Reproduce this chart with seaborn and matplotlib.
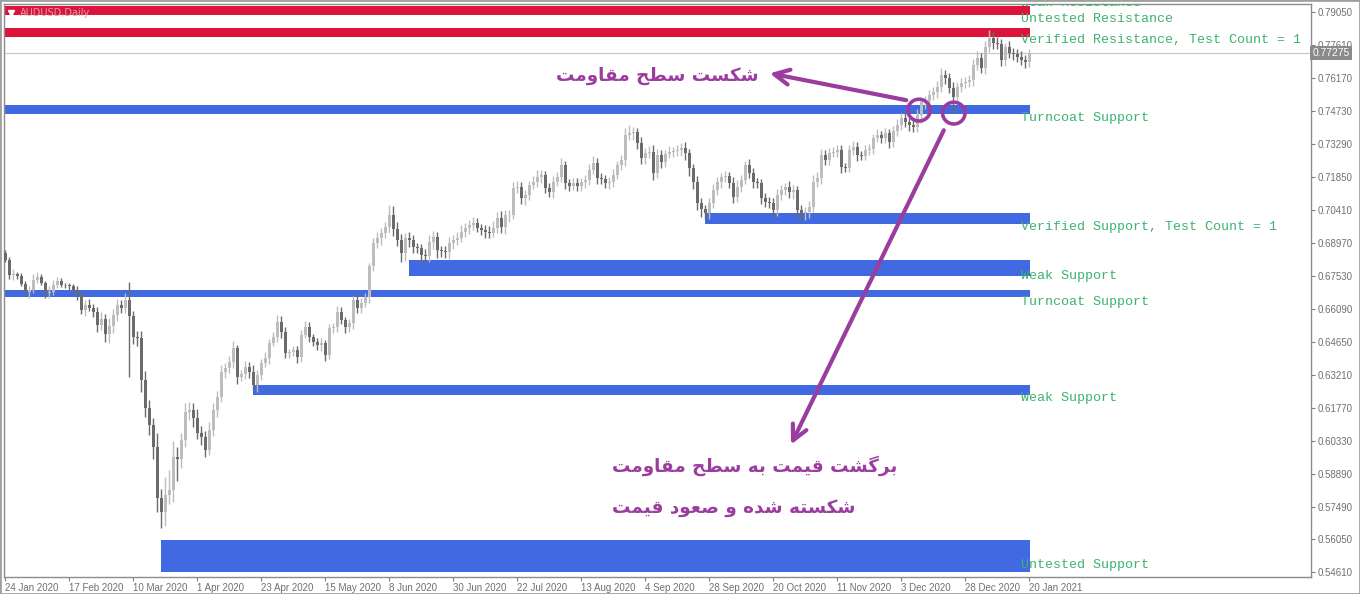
import matplotlib
matplotlib.use("Agg")
import matplotlib.pyplot as plt
import seaborn as sns
import numpy as np
from matplotlib.patches import Ellipse, Rectangle

# daily closes, AUDUSD
closes = [
    0.6823, 0.6757, 0.6762, 0.6753, 0.6718, 0.6683, 0.6692, 0.6736, 0.6749, 0.6722, 0.6679, 0.6683, 0.6714, 0.6731, 0.6714, 0.6712,
    0.6709, 0.6692, 0.6670, 0.6605, 0.6627, 0.6615, 0.6596, 0.6539, 0.6565, 0.6500, 0.6535, 0.6583, 0.6627, 0.6613, 0.6648, 0.6579,
    0.6487, 0.6483, 0.6299, 0.6177, 0.6103, 0.6007, 0.5784, 0.5723, 0.5797, 0.5819, 0.5963, 0.5954, 0.6037, 0.6160, 0.6168, 0.6133,
    0.6068, 0.6051, 0.5994, 0.6081, 0.6168, 0.6225, 0.6334, 0.6352, 0.6378, 0.6439, 0.6312, 0.6325, 0.6356, 0.6334, 0.6277, 0.6321,
    0.6373, 0.6395, 0.6461, 0.6487, 0.6552, 0.6509, 0.6417, 0.6421, 0.6430, 0.6400, 0.6496, 0.6531, 0.6487, 0.6465, 0.6452, 0.6461,
    0.6408, 0.6526, 0.6531, 0.6596, 0.6561, 0.6531, 0.6548, 0.6648, 0.6613, 0.6635, 0.6661, 0.6797, 0.6897, 0.6919, 0.6941, 0.6967,
    0.7019, 0.6958, 0.6910, 0.6853, 0.6919, 0.6910, 0.6880, 0.6875, 0.6845, 0.6840, 0.6901, 0.6923, 0.6867, 0.6862, 0.6858, 0.6897,
    0.6910, 0.6919, 0.6945, 0.6962, 0.6976, 0.6984, 0.6962, 0.6954, 0.6945, 0.6941, 0.6962, 0.7006, 0.6967, 0.7019, 0.7021, 0.7137,
    0.7141, 0.7093, 0.7107, 0.7150, 0.7163, 0.7185, 0.7194, 0.7137, 0.7120, 0.7163, 0.7185, 0.7237, 0.7159, 0.7146, 0.7159, 0.7146,
    0.7163, 0.7172, 0.7216, 0.7246, 0.7181, 0.7178, 0.7159, 0.7163, 0.7194, 0.7237, 0.7259, 0.7368, 0.7377, 0.7380, 0.7333, 0.7268,
    0.7290, 0.7294, 0.7203, 0.7281, 0.7251, 0.7285, 0.7294, 0.7299, 0.7303, 0.7312, 0.7290, 0.7224, 0.7163, 0.7072, 0.7045, 0.7028,
    0.7072, 0.7128, 0.7163, 0.7185, 0.7188, 0.7159, 0.7098, 0.7141, 0.7172, 0.7237, 0.7203, 0.7163, 0.7159, 0.7093, 0.7076, 0.7072,
    0.7041, 0.7107, 0.7128, 0.7141, 0.7120, 0.7128, 0.7041, 0.7028, 0.7032, 0.7054, 0.7163, 0.7181, 0.7281, 0.7259, 0.7290, 0.7294,
    0.7303, 0.7229, 0.7226, 0.7303, 0.7316, 0.7281, 0.7278, 0.7303, 0.7306, 0.7355, 0.7368, 0.7355, 0.7377, 0.7338, 0.7386, 0.7412,
    0.7443, 0.7425, 0.7412, 0.7403, 0.7456, 0.7512, 0.7515, 0.7543, 0.7556, 0.7578, 0.7630, 0.7617, 0.7573, 0.7534, 0.7578, 0.7595,
    0.7600, 0.7608, 0.7674, 0.7704, 0.7661, 0.7752, 0.7792, 0.7770, 0.7765, 0.7696, 0.7752, 0.7726, 0.7722, 0.7709, 0.7696, 0.7687,
    0.77275,
]
first_open = 0.6853

# wick lengths beyond the body, in pips
wick_up = [
    15, 12, 20, 10, 14, 12, 18, 25, 22, 14, 10, 25, 20, 18, 12, 10,
    12, 10, 18, 14, 20, 25, 15, 20, 30, 22, 35, 28, 25, 20, 30, 80,
    20, 25, 30, 40, 35, 30, 60, 40, 80, 90, 70, 45, 30, 40, 35, 30,
    40, 30, 25, 35, 30, 25, 30, 20, 25, 30, 15, 20, 25, 20, 30, 20,
    20, 25, 18, 20, 30, 25, 20, 15, 20, 18, 22, 25, 20, 15, 18, 20,
    15, 20, 18, 25, 20, 15, 18, 20, 25, 22, 18, 15, 20, 25, 22, 20,
    44, 40, 30, 25, 20, 25, 22, 18, 20, 25, 30, 28, 22, 18, 20, 25,
    20, 25, 30, 22, 20, 25, 22, 18, 20, 25, 30, 25, 30, 22, 20, 25,
    25, 22, 20, 18, 25, 30, 20, 18, 22, 25, 20, 30, 20, 18, 22, 20,
    18, 22, 25, 30, 22, 20, 18, 22, 25, 20, 22, 30, 35, 25, 20, 25,
    22, 25, 30, 25, 22, 20, 25, 18, 22, 20, 25, 18, 20, 25, 22, 20,
    20, 25, 22, 18, 22, 20, 25, 30, 22, 20, 25, 22, 20, 18, 22, 20,
    20, 25, 22, 20, 25, 22, 18, 20, 22, 25, 30, 25, 28, 22, 20, 22,
    20, 22, 18, 20, 25, 22, 18, 20, 22, 18, 25, 20, 22, 18, 20, 25,
    22, 20, 18, 22, 25, 20, 25, 22, 20, 25, 30, 22, 20, 25, 22, 20,
    20, 22, 25, 30, 22, 25, 35, 30, 25, 22, 20, 25, 22, 20, 25, 22,
    15,
]
wick_dn = [
    10, 15, 20, 12, 10, 18, 25, 12, 15, 10, 20, 22, 12, 15, 10, 12,
    15, 12, 20, 18, 25, 15, 20, 28, 22, 35, 40, 30, 25, 20, 22, 266,
    30, 35, 50, 40, 45, 50, 60, 70, 60, 40, 50, 96, 40, 30, 35, 40,
    25, 35, 30, 20, 25, 30, 20, 25, 20, 25, 30, 15, 20, 25, 20, 30,
    20, 18, 25, 15, 20, 25, 22, 20, 18, 25, 20, 15, 22, 18, 20, 25,
    25, 18, 20, 22, 18, 25, 20, 28, 22, 20, 18, 25, 20, 22, 30, 20,
    25, 30, 28, 40, 35, 30, 25, 22, 35, 30, 25, 30, 35, 28, 25, 30,
    25, 20, 18, 22, 25, 20, 18, 22, 25, 20, 18, 22, 25, 30, 28, 20,
    20, 25, 30, 22, 18, 20, 25, 22, 20, 25, 18, 22, 25, 20, 18, 22,
    20, 25, 22, 18, 25, 22, 20, 25, 22, 18, 20, 25, 22, 30, 25, 28,
    25, 20, 30, 22, 25, 20, 18, 22, 20, 25, 30, 35, 28, 30, 35, 25,
    25, 22, 20, 25, 20, 22, 25, 20, 22, 18, 20, 25, 22, 25, 20, 22,
    35, 25, 22, 20, 25, 30, 40, 35, 30, 25, 22, 20, 25, 22, 20, 18,
    22, 25, 20, 18, 22, 25, 20, 18, 22, 20, 18, 22, 20, 25, 22, 20,
    20, 22, 25, 20, 22, 35, 30, 22, 20, 25, 22, 25, 22, 70, 22, 20,
    22, 20, 25, 22, 20, 25, 22, 25, 20, 28, 25, 22, 25, 20, 22, 25,
    20,
]

date_labels = ["24 Jan 2020", "17 Feb 2020", "10 Mar 2020", "1 Apr 2020", "23 Apr 2020",
               "15 May 2020", "8 Jun 2020", "30 Jun 2020", "22 Jul 2020", "13 Aug 2020",
               "4 Sep 2020", "28 Sep 2020", "20 Oct 2020", "11 Nov 2020", "3 Dec 2020",
               "28 Dec 2020", "20 Jan 2021"]
price_ticks = [0.79050, 0.77610, 0.76170, 0.74730, 0.73290, 0.71850, 0.70410, 0.68970,
               0.67530, 0.66090, 0.64650, 0.63210, 0.61770, 0.60330, 0.58890, 0.57450,
               0.56050, 0.54610]
price_labels = ["0.79050", "0.77610", "0.76170", "0.74730", "0.73290", "0.71850", "0.70410",
                "0.68970", "0.67530", "0.66090", "0.64650", "0.63210", "0.61770", "0.60330",
                "0.58890", "0.57490", "0.56050", "0.54610"]
last_price = 0.77275

# supply/demand zones
zone_names = ["Weak Resistance", "Untested Resistance", "Turncoat Support",
              "Verified Support, Test Count = 1", "Weak Support", "Turncoat Support",
              "Weak Support", "Untested Support"]
zone_lo = [0.7892, 0.7796, 0.7460, 0.6980, 0.6753, 0.6661, 0.6234, 0.5461]
zone_hi = [0.7931, 0.7835, 0.7499, 0.7028, 0.6823, 0.6692, 0.6277, 0.5601]
zone_start = [-1, -1, -1, 175, 101, -1, 62, 39]
zone_color = ["#dc143c", "#dc143c", "#4169e1", "#4169e1", "#4169e1", "#4169e1", "#4169e1", "#4169e1"]
label_y = [0.7944, 0.7875, 0.7443, 0.6967, 0.6753, 0.6640, 0.6221, 0.5492]
extra_label = ("Verified Resistance, Test Count = 1", 0.7783)

# persian letters -> (isolated, final, initial, medial)
FORMS = {
    "ا": ("\ufe8d", "\ufe8e", None, None),
    "ب": ("\ufe8f", "\ufe90", "\ufe91", "\ufe92"),
    "ت": ("\ufe95", "\ufe96", "\ufe97", "\ufe98"),
    "ح": ("\ufea1", "\ufea2", "\ufea3", "\ufea4"),
    "د": ("\ufea9", "\ufeaa", None, None),
    "ر": ("\ufead", "\ufeae", None, None),
    "س": ("\ufeb1", "\ufeb2", "\ufeb3", "\ufeb4"),
    "ش": ("\ufeb5", "\ufeb6", "\ufeb7", "\ufeb8"),
    "ص": ("\ufeb9", "\ufeba", "\ufebb", "\ufebc"),
    "ط": ("\ufec1", "\ufec2", "\ufec3", "\ufec4"),
    "ع": ("\ufec9", "\ufeca", "\ufecb", "\ufecc"),
    "ق": ("\ufed5", "\ufed6", "\ufed7", "\ufed8"),
    "م": ("\ufee1", "\ufee2", "\ufee3", "\ufee4"),
    "ه": ("\ufee9", "\ufeea", "\ufeeb", "\ufeec"),
    "و": ("\ufeed", "\ufeee", None, None),
    "ک": ("\ufb8e", "\ufb8f", "\ufb90", "\ufb91"),
    "گ": ("\ufb92", "\ufb93", "\ufb94", "\ufb95"),
    "ی": ("\ufbfc", "\ufbfd", "\ufbfe", "\ufbff"),
}


def shape(s):
    out = []
    for i, ch in enumerate(s):
        if ch not in FORMS:
            out.append(ch)
            continue
        f = FORMS[ch]
        prev = s[i - 1] if i > 0 else ""
        nxt = s[i + 1] if i + 1 < len(s) else ""
        link_prev = prev in FORMS and FORMS[prev][2] is not None
        link_next = f[2] is not None and nxt in FORMS
        if link_prev and link_next:
            out.append(f[3])
        elif link_prev:
            out.append(f[1])
        elif link_next:
            out.append(f[2])
        else:
            out.append(f[0])
    return "".join(reversed(out))


sns.set_theme(style="white")
plt.rcParams["font.family"] = ["DejaVu Sans"]

fig = plt.figure(figsize=(13.6, 5.94), dpi=100)
ax = fig.add_axes([4 / 1360, 17 / 594, 1307 / 1360, 573 / 594])

n = len(closes)
idx = np.arange(n)
c = np.array(closes)
o = np.array([first_open] + closes[:-1])
hi = np.maximum(o, c) + np.array(wick_up) * 0.0001
lo = np.minimum(o, c) - np.array(wick_dn) * 0.0001
up = c >= o
cols = np.where(up, "#bdbdbd", "#6b6b6b")

x_right = 256.3
# zones
for lo_z, hi_z, st, col in zip(zone_lo, zone_hi, zone_start, zone_color):
    ax.fill_between([st, x_right], lo_z, hi_z, color=col, lw=0, zorder=1)

ax.axhline(last_price, color="#c8c8c8", lw=0.9, zorder=1.5)

# candles
ax.vlines(idx, lo, hi, colors=cols, lw=1, zorder=3)
body = np.maximum(np.abs(c - o), 0.0002)
ax.bar(idx, body, bottom=np.minimum(o, c), width=0.75, color=cols, lw=0, zorder=3)

mono = dict(family="Liberation Mono", fontsize=9.6, color="#3cb371", va="center", ha="left", zorder=5)
for name, yy in zip(zone_names, label_y):
    ax.text(254, yy, name, clip_on=True, **mono)
ax.text(254, extra_label[1], extra_label[0], clip_on=True, **mono)

purple = "#9b3d9f"
ax.add_patch(Ellipse((228.5, 0.7477), 5.6, 0.0095, fill=False, ec=purple, lw=2.6, zorder=6))
ax.add_patch(Ellipse((237.2, 0.7464), 5.6, 0.0095, fill=False, ec=purple, lw=2.6, zorder=6))
ax.annotate("", xy=(190.5, 0.7640), xytext=(226, 0.7518),
            arrowprops=dict(arrowstyle="->,head_length=0.9,head_width=0.45", color=purple, lw=3),
            zorder=6)
ax.annotate("", xy=(196.2, 0.6007), xytext=(235, 0.7400),
            arrowprops=dict(arrowstyle="->,head_length=0.9,head_width=0.45", color=purple, lw=3),
            zorder=6)

fa = dict(family=["DejaVu Sans"], fontsize=13.2, fontweight="bold", color=purple, va="center", zorder=6)
ax.text(163, 0.7628, shape("شکست سطح مقاومت"), ha="center", **fa)
ax.text(151.8, 0.5924, shape("برگشت قیمت به سطح مقاومت"), ha="left", **fa)
ax.text(151.8, 0.5741, shape("شکسته شده و صعود قیمت"), ha="left", **fa)

ax.text(0.012, 0.985, "AUDUSD,Daily", transform=ax.transAxes, fontsize=7, color="#d9a3ad",
        va="center", ha="left", zorder=6)
ax.plot([0.0055], [0.985], marker="v", color="white", ms=5, transform=ax.transAxes, zorder=6)

ax.set_xlim(-0.25, -0.25 + 1307 / 4)
ax.set_ylim(0.5440, 0.7940)

ax.yaxis.tick_right()
ax.set_yticks(price_ticks)
ax.set_yticklabels(price_labels)
ax.set_xticks(np.arange(0, 257, 16))
ax.set_xticklabels(date_labels)
for lab in ax.get_xticklabels():
    lab.set_ha("left")
ax.tick_params(axis="both", which="both", direction="out", length=3, width=0.8, color="#808080",
               labelcolor="#707070", labelsize=7, pad=1.5)
ax.tick_params(axis="y", right=True, left=False)
ax.tick_params(axis="x", bottom=True)
for lab in ax.get_yticklabels() + ax.get_xticklabels():
    lab.set_family("Liberation Sans")
for sp in ax.spines.values():
    sp.set_color("#8c8c8c")
    sp.set_linewidth(1)

ax.annotate("0.77275", xy=(1.001, last_price), xycoords=("axes fraction", "data"),
            fontsize=7.4, family="Liberation Sans", color="white", va="center", ha="left",
            bbox=dict(boxstyle="square,pad=0.2", fc="#8a8a8a", ec="none"), zorder=10,
            annotation_clip=False)

fig.patches.append(Rectangle((0, 0), 1, 1, transform=fig.transFigure, fill=False,
                             ec="#a0a0a0", lw=2))

fig.savefig("out.png", dpi=100)
